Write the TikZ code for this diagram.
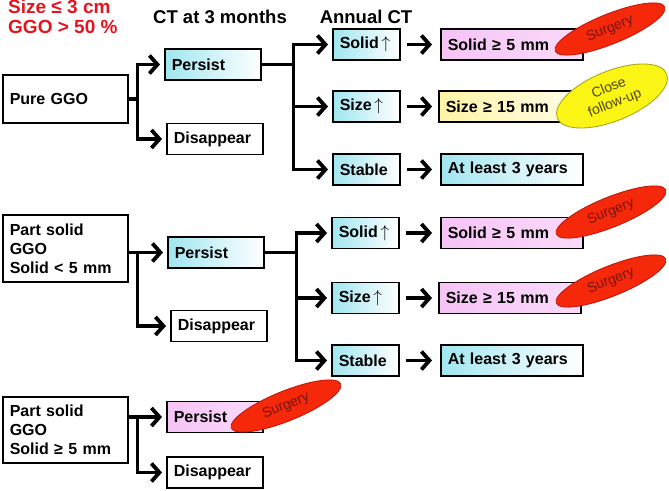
\documentclass[tikz,border=0pt]{standalone}
\usepackage{fontspec}
\setmainfont{Liberation Sans}
\usetikzlibrary{arrows.meta, positioning, shapes.geometric, calc}

\definecolor{alertred}{RGB}{230,20,30}
\definecolor{boxcyan}{RGB}{160,230,240}
\definecolor{pinkdeep}{RGB}{228,105,228}
\definecolor{pinklight}{RGB}{246,195,246}
\definecolor{boxyellow}{RGB}{255,244,165}
\definecolor{surgred}{RGB}{245,40,10}
\definecolor{surgedge}{RGB}{190,20,10}
\definecolor{surgtext}{RGB}{120,20,10}
\definecolor{fupyellow}{RGB}{250,245,20}
\definecolor{fupedge}{RGB}{170,160,20}
\definecolor{fuptext}{RGB}{80,70,10}

\newcommand{\up}{\,$\uparrow$}

\tikzstyle{box} = [draw, line width=1.5pt, anchor=west, align=left, inner xsep=7pt, minimum height=31pt, font=\bfseries\fontsize{16}{19}\selectfont]
\tikzstyle{bigbox} = [box, minimum width=125pt, text width=111pt]
\tikzstyle{midbox} = [box, minimum width=96pt, text width=82pt]
\tikzstyle{smallbox} = [box, minimum width=67pt, text width=53pt]
\tikzstyle{widebox} = [box, minimum width=142pt, text width=128pt]
\tikzstyle{cyanfill} = [left color=boxcyan, right color=white]
\tikzstyle{pinkfill} = [left color=pinklight, middle color=pinkdeep, right color=pinklight!60!white]
\tikzstyle{yellowfill} = [left color=boxyellow, right color=boxyellow!25!white]
\tikzstyle{head} = [font=\bfseries\fontsize{18.5}{21}\selectfont]
\tikzstyle{trunk} = [line width=3.8pt, line join=miter]
\tikzstyle{arr} = [trunk, ->, shorten >=4pt]
\tikzstyle{surgery} = [ellipse, draw=surgedge, fill=surgred, text=surgtext, line width=0.8pt, minimum width=118pt, minimum height=30pt, inner sep=0pt, rotate=22, font=\fontsize{14}{16}\selectfont]
\tikzstyle{followup} = [ellipse, draw=fupedge, fill=fupyellow, text=fuptext, line width=0.8pt, minimum width=118pt, minimum height=50pt, inner sep=0pt, align=center, rotate=22, font=\fontsize{14}{16}\selectfont]

\begin{document}
\begin{tikzpicture}[x=1pt, y=-1pt, >={Straight Barb[length=8pt,width=18pt]}]
\useasboundingbox (0,0) rectangle (669,490);

% titles
\node [anchor=north west, inner sep=0pt, align=left, text=alertred, font=\bfseries\fontsize{19}{20}\selectfont] (crit) at (8,0) {Size ≤ 3 cm\\GGO > 50 \%};
\node [head] (h3m) at (220,17) {CT at 3 months};
\node [head] (hann) at (366,17) {Annual CT};

% pure GGO
\node [bigbox, minimum height=48pt] (pure) at (2,99) {Pure GGO};
\node [midbox, cyanfill] (p1) at (164,64.5) {Persist};
\node [midbox] (d1) at (166,139) {Disappear};
\node [smallbox, cyanfill] (s1) at (332,44.5) {Solid\up};
\node [smallbox, cyanfill] (z1) at (332,106.5) {Size\up};
\node [smallbox, cyanfill] (t1) at (332,169.5) {Stable};
\node [widebox, pinkfill] (sv1) at (440,44.5) {Solid ≥ 5 mm};
\node [widebox, yellowfill] (sz1) at (438,106.5) {Size ≥ 15 mm};
\node [widebox, cyanfill] (al1) at (440,169.5) {At least 3 years};

\coordinate (j1) at ($(pure.east)+(9,0)$);
\draw [trunk] (pure.east) -- (j1);
\draw [arr] (j1) |- (p1.west);
\draw [arr] (j1) |- (d1.west);
\coordinate (k1) at ($(p1.east)+(32,0)$);
\draw [trunk] (p1.east) -- (k1);
\draw [arr] (k1) |- (s1.west);
\draw [arr] (k1) |- (z1.west);
\draw [arr] (k1) |- (t1.west);
\draw [arr, shorten <=6pt, shorten >=8pt] (s1.east) -- (sv1.west);
\draw [arr, shorten <=6pt, shorten >=6pt] (z1.east) -- (sz1.west);
\draw [arr, shorten <=6pt, shorten >=8pt] (t1.east) -- (al1.west);

% part solid, solid < 5 mm
\node [bigbox, minimum height=67pt] (ps) at (2,248.5) {Part solid\\GGO\\Solid < 5 mm};
\node [midbox, cyanfill] (p2) at (167,252.5) {Persist};
\node [midbox] (d2) at (170,326) {Disappear};
\node [smallbox, cyanfill] (s2) at (331,233) {Solid\up};
\node [smallbox, cyanfill] (z2) at (331,298) {Size\up};
\node [smallbox, cyanfill] (t2) at (331,360.5) {Stable};
\node [widebox, pinkfill] (sv2) at (440,233) {Solid ≥ 5 mm};
\node [widebox, pinkfill] (sz2) at (438,298) {Size ≥ 15 mm};
\node [widebox, cyanfill] (al2) at (440,360.5) {At least 3 years};

\draw [arr] (ps.east |- p2.west) -- (p2.west);
\coordinate (j2) at ($(ps.east |- p2.west)+(9,0)$);
\draw [arr] (j2) |- (d2.west);
\coordinate (k2) at ($(p2.east)+(32,0)$);
\draw [trunk] (p2.east) -- (k2);
\draw [arr] (k2) |- (s2.west);
\draw [arr] (k2) |- (z2.west);
\draw [arr] (k2) |- (t2.west);
\draw [arr, shorten <=6pt, shorten >=8pt] (s2.east) -- (sv2.west);
\draw [arr, shorten <=6pt, shorten >=6pt] (z2.east) -- (sz2.west);
\draw [arr, shorten <=6pt, shorten >=8pt] (t2.east) -- (al2.west);

% part solid, solid >= 5 mm
\node [bigbox, minimum height=66pt] (pg) at (2,430) {Part solid\\GGO\\Solid ≥ 5 mm};
\node [midbox, pinkfill] (p3) at (166,417) {Persist};
\node [midbox] (d3) at (166,472.5) {Disappear};

\draw [arr] (pg.east |- p3.west) -- (p3.west);
\coordinate (j3) at ($(pg.east |- p3.west)+(9,0)$);
\draw [arr] (j3) |- (d3.west);

% outcome ovals
\node [surgery] (op1) at (610,29) {Surgery};
\node [followup] (fu1) at (612,96) {Close\\follow-up};
\node [surgery] (op2) at (611,212) {Surgery};
\node [surgery] (op3) at (611,281) {Surgery};
\node [surgery] (op4) at (286,406) {Surgery};

\end{tikzpicture}
\end{document}
